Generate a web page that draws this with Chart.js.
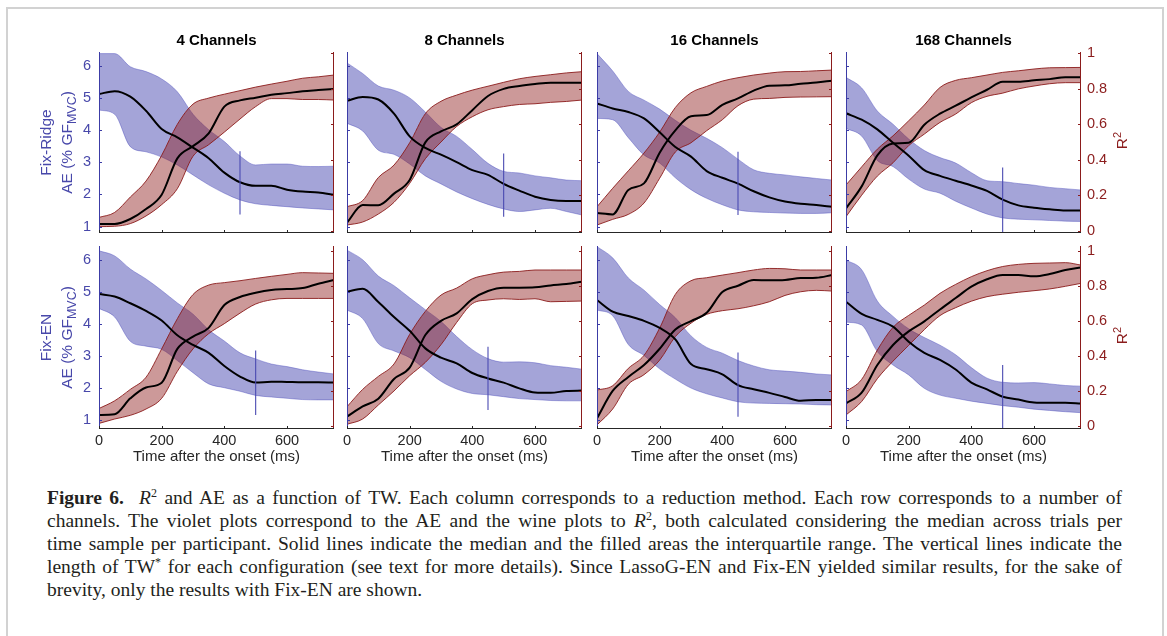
<!DOCTYPE html>
<html>
<head>
<meta charset="utf-8">
<script src="https://cdn.jsdelivr.net/npm/chart.js@4.4.1/dist/chart.umd.min.js"></script>
<style>
    body { margin: 0; background: #fff; width: 1167px; height: 636px; overflow: hidden; position: relative; }
    #frame { position: absolute; left: 6px; top: 7px; width: 1154px; height: 700px; border: 2px solid #d2d2d2; border-bottom: none; }
    canvas { position: absolute; }
    #caption { position: absolute; left: 47px; top: 486px; width: 1075px; font-family: "Liberation Serif", "Times New Roman", serif; font-size: 19.5px; line-height: 23px; color: #231f20; }
    #caption div { text-align: justify; text-align-last: justify; white-space: nowrap; }
    #caption div.last { text-align-last: left; }
    #caption sup { font-size: 12px; line-height: 0; vertical-align: 7px; }
</style>
</head>
<body>
<div id="frame"></div>
<div id="charts"></div>
<div id="caption">
    <div><b>Figure 6.</b>&nbsp; <i>R</i><sup>2</sup> and AE as a function of TW. Each column corresponds to a reduction method. Each row corresponds to a number of</div>
    <div>channels. The violet plots correspond to the AE and the wine plots to <i>R</i><sup>2</sup>, both calculated considering the median across trials per</div>
    <div>time sample per participant. Solid lines indicate the median and the filled areas the interquartile range. The vertical lines indicate the</div>
    <div>length of TW<sup>*</sup> for each configuration (see text for more details). Since LassoG-EN and Fix-EN yielded similar results, for the sake of</div>
    <div class="last">brevity, only the results with Fix-EN are shown.</div>
</div>
<script>
// time after the onset (ms)
const TIME = [0, 50, 100, 150, 200, 250, 300, 350, 400, 450, 500, 550, 600, 650, 700, 750];

const methods = ["Fix-Ridge", "Fix-EN"];
const channels = ["4 Channels", "8 Channels", "16 Channels", "168 Channels"];

// Fix-Ridge, AE (% GF_MVC): median, lower and upper quartile
const ridge4AeMed = [5.13, 5.22, 5.05, 4.61, 4.04, 3.78, 3.46, 3.13, 2.68, 2.38, 2.27, 2.27, 2.15, 2.09, 2.06, 1.99];
const ridge4AeLo = [4.63, 4.50, 3.49, 3.33, 3.17, 2.92, 2.61, 2.30, 2.04, 1.83, 1.71, 1.66, 1.62, 1.58, 1.55, 1.52];
const ridge4AeHi = [6.39, 6.39, 5.98, 5.83, 5.60, 5.20, 4.50, 4.02, 3.65, 3.20, 2.92, 2.95, 2.95, 2.88, 2.87, 2.88];
const ridge8AeMed = [4.92, 5.04, 4.96, 4.52, 3.81, 3.45, 3.24, 3.01, 2.76, 2.61, 2.33, 2.12, 1.93, 1.83, 1.80, 1.80];
const ridge8AeLo = [4.22, 3.98, 3.38, 3.25, 2.95, 2.58, 2.33, 2.08, 1.87, 1.69, 1.55, 1.47, 1.52, 1.57, 1.47, 1.36];
const ridge8AeHi = [6.10, 5.77, 5.38, 5.25, 5.01, 4.57, 4.09, 3.81, 3.40, 2.97, 2.72, 2.67, 2.58, 2.52, 2.45, 2.43];
const ridge16AeMed = [4.84, 4.68, 4.57, 4.37, 3.94, 3.48, 3.18, 2.73, 2.52, 2.34, 2.10, 1.91, 1.78, 1.71, 1.67, 1.62];
const ridge16AeLo = [4.37, 4.33, 3.77, 3.23, 2.98, 2.52, 2.15, 1.88, 1.68, 1.52, 1.46, 1.44, 1.42, 1.41, 1.41, 1.43];
const ridge16AeHi = [6.39, 5.85, 5.21, 4.94, 4.66, 4.31, 4.00, 3.75, 3.46, 3.10, 2.77, 2.66, 2.61, 2.55, 2.50, 2.45];
const ridge168AeMed = [4.53, 4.33, 4.03, 3.61, 3.21, 2.76, 2.58, 2.43, 2.28, 2.11, 1.84, 1.66, 1.59, 1.54, 1.50, 1.50];
const ridge168AeLo = [4.06, 3.82, 3.06, 2.87, 2.48, 2.17, 2.04, 1.79, 1.58, 1.39, 1.27, 1.23, 1.21, 1.19, 1.17, 1.16];
const ridge168AeHi = [5.65, 5.32, 4.60, 4.19, 3.73, 3.37, 3.15, 2.98, 2.68, 2.43, 2.40, 2.34, 2.29, 2.22, 2.18, 2.14];

// Fix-Ridge, R2
const ridge4R2Med = [0.038, 0.038, 0.066, 0.122, 0.203, 0.408, 0.477, 0.549, 0.70, 0.735, 0.75, 0.767, 0.776, 0.786, 0.793, 0.80];
const ridge4R2Lo = [0.023, 0.025, 0.04, 0.083, 0.147, 0.237, 0.42, 0.485, 0.556, 0.63, 0.70, 0.745, 0.745, 0.74, 0.74, 0.737];
const ridge4R2Hi = [0.075, 0.103, 0.19, 0.28, 0.425, 0.60, 0.714, 0.748, 0.77, 0.79, 0.81, 0.827, 0.843, 0.86, 0.868, 0.878];
const ridge8R2Med = [0.045, 0.145, 0.143, 0.209, 0.286, 0.498, 0.56, 0.60, 0.68, 0.76, 0.80, 0.816, 0.827, 0.835, 0.835, 0.835];
const ridge8R2Lo = [0.032, 0.049, 0.094, 0.16, 0.267, 0.406, 0.50, 0.588, 0.643, 0.682, 0.70, 0.712, 0.716, 0.724, 0.729, 0.737];
const ridge8R2Hi = [0.135, 0.17, 0.30, 0.37, 0.496, 0.66, 0.73, 0.765, 0.793, 0.815, 0.837, 0.857, 0.87, 0.88, 0.89, 0.897];
const ridge16R2Med = [0.10, 0.092, 0.23, 0.267, 0.44, 0.566, 0.645, 0.652, 0.71, 0.746, 0.79, 0.818, 0.82, 0.829, 0.836, 0.846];
const ridge16R2Lo = [0.032, 0.064, 0.092, 0.156, 0.296, 0.444, 0.496, 0.564, 0.626, 0.705, 0.742, 0.746, 0.752, 0.754, 0.755, 0.756];
const ridge16R2Hi = [0.135, 0.239, 0.338, 0.438, 0.556, 0.695, 0.778, 0.814, 0.844, 0.863, 0.878, 0.889, 0.897, 0.898, 0.902, 0.906];
const ridge168R2Med = [0.126, 0.25, 0.425, 0.492, 0.496, 0.598, 0.66, 0.705, 0.752, 0.795, 0.84, 0.84, 0.848, 0.855, 0.865, 0.865];
const ridge168R2Lo = [0.079, 0.20, 0.308, 0.383, 0.48, 0.545, 0.611, 0.658, 0.722, 0.758, 0.776, 0.80, 0.816, 0.829, 0.835, 0.835];
const ridge168R2Hi = [0.258, 0.36, 0.46, 0.535, 0.62, 0.709, 0.808, 0.848, 0.863, 0.878, 0.893, 0.902, 0.912, 0.919, 0.92, 0.921];

// Fix-EN, AE (% GF_MVC)
const en4AeMed = [4.94, 4.86, 4.65, 4.41, 4.11, 3.65, 3.35, 3.10, 2.69, 2.36, 2.17, 2.20, 2.19, 2.18, 2.18, 2.17];
const en4AeLo = [4.49, 4.22, 3.46, 3.31, 3.21, 2.86, 2.48, 2.13, 2.01, 1.90, 1.77, 1.72, 1.68, 1.64, 1.63, 1.63];
const en4AeHi = [6.29, 6.13, 5.72, 5.41, 5.05, 4.66, 4.31, 3.82, 3.47, 3.10, 2.91, 2.75, 2.67, 2.57, 2.50, 2.44];
const en8AeMed = [5.01, 5.10, 4.69, 4.22, 3.79, 3.24, 2.95, 2.77, 2.47, 2.30, 2.17, 1.99, 1.86, 1.85, 1.91, 1.92];
const en8AeLo = [4.44, 4.17, 3.39, 3.16, 2.95, 2.58, 2.21, 1.97, 1.83, 1.79, 1.73, 1.67, 1.64, 1.61, 1.60, 1.60];
const en8AeHi = [6.31, 6.01, 5.50, 5.20, 4.82, 4.45, 4.08, 3.61, 3.20, 2.92, 2.81, 2.82, 2.79, 2.70, 2.65, 2.59];
const en16AeMed = [4.75, 4.39, 4.25, 4.10, 3.88, 3.52, 2.75, 2.59, 2.43, 2.09, 1.96, 1.85, 1.72, 1.60, 1.63, 1.63];
const en16AeLo = [4.44, 4.26, 3.36, 3.02, 2.60, 2.28, 2.00, 1.82, 1.69, 1.57, 1.53, 1.52, 1.51, 1.50, 1.48, 1.47];
const en16AeHi = [6.42, 6.07, 5.44, 5.06, 4.61, 4.20, 3.63, 3.27, 3.09, 2.86, 2.69, 2.57, 2.53, 2.49, 2.44, 2.41];
const en168AeMed = [4.70, 4.32, 4.13, 3.92, 3.45, 3.10, 2.88, 2.58, 2.17, 1.96, 1.73, 1.64, 1.55, 1.54, 1.54, 1.52];
const en168AeLo = [4.06, 3.97, 3.14, 2.72, 2.41, 1.99, 1.78, 1.68, 1.59, 1.52, 1.45, 1.40, 1.34, 1.30, 1.26, 1.23];
const en168AeHi = [6.00, 5.70, 4.72, 4.24, 3.85, 3.58, 3.34, 3.04, 2.64, 2.31, 2.18, 2.16, 2.17, 2.13, 2.08, 2.06];

// Fix-EN, R2
const en4R2Med = [0.063, 0.067, 0.158, 0.22, 0.247, 0.44, 0.51, 0.56, 0.69, 0.736, 0.76, 0.776, 0.781, 0.787, 0.812, 0.833];
const en4R2Lo = [0.015, 0.04, 0.061, 0.097, 0.158, 0.312, 0.44, 0.527, 0.584, 0.644, 0.696, 0.72, 0.728, 0.728, 0.728, 0.728];
const en4R2Hi = [0.10, 0.144, 0.209, 0.278, 0.44, 0.612, 0.75, 0.804, 0.818, 0.829, 0.842, 0.854, 0.865, 0.875, 0.873, 0.871];
const en8R2Med = [0.053, 0.112, 0.156, 0.268, 0.333, 0.519, 0.60, 0.643, 0.724, 0.77, 0.789, 0.789, 0.791, 0.802, 0.81, 0.823];
const en8R2Lo = [0.01, 0.04, 0.12, 0.20, 0.287, 0.363, 0.464, 0.591, 0.698, 0.719, 0.726, 0.722, 0.726, 0.709, 0.711, 0.713];
const en8R2Hi = [0.11, 0.209, 0.283, 0.354, 0.523, 0.654, 0.747, 0.787, 0.84, 0.863, 0.878, 0.882, 0.89, 0.89, 0.89, 0.89];
const en16R2Med = [0.044, 0.20, 0.28, 0.348, 0.441, 0.551, 0.599, 0.646, 0.764, 0.80, 0.833, 0.831, 0.833, 0.844, 0.846, 0.861];
const en16R2Lo = [0.006, 0.097, 0.238, 0.293, 0.376, 0.51, 0.587, 0.637, 0.658, 0.669, 0.686, 0.709, 0.745, 0.766, 0.774, 0.77];
const en16R2Hi = [0.205, 0.23, 0.329, 0.403, 0.559, 0.751, 0.829, 0.846, 0.861, 0.875, 0.89, 0.899, 0.897, 0.89, 0.89, 0.89];
const en168R2Med = [0.129, 0.19, 0.348, 0.462, 0.54, 0.597, 0.665, 0.73, 0.795, 0.837, 0.861, 0.861, 0.854, 0.867, 0.89, 0.905];
const en168R2Lo = [0.063, 0.14, 0.27, 0.37, 0.46, 0.55, 0.63, 0.675, 0.712, 0.738, 0.752, 0.763, 0.772, 0.782, 0.797, 0.814];
const en168R2Hi = [0.196, 0.266, 0.433, 0.563, 0.631, 0.69, 0.757, 0.808, 0.852, 0.886, 0.91, 0.922, 0.928, 0.93, 0.932, 0.918];

// TW* vertical lines (ms) and their AE extent, panel order: ridge 4..168, EN 4..168
const twStar = [450, 500, 450, 500, 500, 450, 450, 500];
const twAeLo = [1.38, 1.31, 1.36, 0.80, 1.16, 1.31, 1.10, 0.72];
const twAeHi = [3.35, 3.28, 3.33, 2.84, 3.17, 3.29, 3.11, 2.72];

// tick labels
const xTicks = [0, 200, 400, 600];
const aeTicks = [1, 2, 3, 4, 5, 6];
const r2Ticks = [0, 0.2, 0.4, 0.6, 0.8, 1];

// layout
const COL_LEFT = [99, 347, 597, 846];
const PANEL_W = 235;
const ROW_TOP = [52, 246];
const ROW_H = [181, 183];
const AE_RANGE = [[0.80, 6.44], [0.72, 6.44]];
const R2_RANGE = [[-0.013, 1.008], [-0.017, 1.027]];
const M = 75, MT = 45, MB = 45;

const FONT = '"Liberation Sans", Arial, Helvetica, sans-serif';
const AE_COLOR = "#3c3ca6";
const R2_COLOR = "#8b1c1c";
const X_COLOR = "#262626";

const panelData = [
    [ridge4AeMed, ridge4AeLo, ridge4AeHi, ridge4R2Med, ridge4R2Lo, ridge4R2Hi],
    [ridge8AeMed, ridge8AeLo, ridge8AeHi, ridge8R2Med, ridge8R2Lo, ridge8R2Hi],
    [ridge16AeMed, ridge16AeLo, ridge16AeHi, ridge16R2Med, ridge16R2Lo, ridge16R2Hi],
    [ridge168AeMed, ridge168AeLo, ridge168AeHi, ridge168R2Med, ridge168R2Lo, ridge168R2Hi],
    [en4AeMed, en4AeLo, en4AeHi, en4R2Med, en4R2Lo, en4R2Hi],
    [en8AeMed, en8AeLo, en8AeHi, en8R2Med, en8R2Lo, en8R2Hi],
    [en16AeMed, en16AeLo, en16AeHi, en16R2Med, en16R2Lo, en16R2Hi],
    [en168AeMed, en168AeLo, en168AeHi, en168R2Med, en168R2Lo, en168R2Hi]
];

function pts(vals) {
    return TIME.map(function (t, i) { return { x: t, y: vals[i] }; });
}

function drawParts(ctx, parts, cx, cy) {
    // parts drawn along a rotated baseline, centred on (cx, cy)
    let total = 0;
    parts.forEach(function (p) { ctx.font = p.font; p.w = ctx.measureText(p.text).width; total += p.w; });
    ctx.save();
    ctx.translate(cx, cy);
    ctx.rotate(-Math.PI / 2);
    ctx.textBaseline = "middle";
    ctx.textAlign = "left";
    let x = -total / 2;
    parts.forEach(function (p) {
        ctx.font = p.font;
        ctx.fillText(p.text, x, p.dy);
        x += p.w;
    });
    ctx.restore();
}

const decor = {
    id: "decor",
    afterDraw(chart, args, o) {
        const ctx = chart.ctx;
        const a = chart.chartArea;
        const sx = chart.scales.x, sae = chart.scales.ae, sr2 = chart.scales.r2;
        const TL = 3;
        ctx.save();
        ctx.lineWidth = 1;

        ctx.strokeStyle = AE_COLOR;
        ctx.beginPath();
        ctx.moveTo(a.left + 0.5, a.top);
        ctx.lineTo(a.left + 0.5, a.bottom);
        aeTicks.forEach(function (v) {
            const y = Math.round(sae.getPixelForValue(v)) + 0.5;
            ctx.moveTo(a.left, y);
            ctx.lineTo(a.left + TL, y);
        });
        ctx.stroke();

        ctx.strokeStyle = R2_COLOR;
        ctx.beginPath();
        ctx.moveTo(a.right - 0.5, a.top);
        ctx.lineTo(a.right - 0.5, a.bottom);
        r2Ticks.forEach(function (v) {
            const y = Math.round(sr2.getPixelForValue(v)) + 0.5;
            ctx.moveTo(a.right, y);
            ctx.lineTo(a.right - TL, y);
        });
        ctx.stroke();

        ctx.strokeStyle = X_COLOR;
        ctx.beginPath();
        ctx.moveTo(a.left, a.bottom - 0.5);
        ctx.lineTo(a.right, a.bottom - 0.5);
        xTicks.forEach(function (v) {
            const x = Math.round(sx.getPixelForValue(v)) + 0.5;
            ctx.moveTo(x, a.bottom);
            ctx.lineTo(x, a.bottom - TL);
        });
        ctx.stroke();

        const midY = (a.top + a.bottom) / 2;
        if (o.title) {
            ctx.fillStyle = "#000";
            ctx.font = "bold 15px " + FONT;
            ctx.textAlign = "center";
            ctx.textBaseline = "middle";
            ctx.fillText(o.title, (a.left + a.right) / 2, a.top - 11.5);
        }
        if (o.method) {
            ctx.fillStyle = "#4848aa";
            drawParts(ctx, [{ text: o.method, font: "15.5px " + FONT, dy: 0 }], a.left - 52, midY);
            drawParts(ctx, [
                { text: "AE (% GF", font: "15.5px " + FONT, dy: 0 },
                { text: "MVC", font: "12.5px " + FONT, dy: 4.5 },
                { text: ")", font: "15.5px " + FONT, dy: 0 }
            ], a.left - 31, midY);
        }
        if (o.r2Title) {
            ctx.fillStyle = R2_COLOR;
            drawParts(ctx, [
                { text: "R", font: "15.5px " + FONT, dy: 0 },
                { text: "2", font: "11px " + FONT, dy: -5 }
            ], a.right + 42, midY - 2);
        }
        ctx.restore();
    }
};

function r2Label(v) {
    return String(Math.round(v * 10) / 10);
}

const holder = document.getElementById("charts");

for (let p = 0; p < 8; p++) {
    const row = Math.floor(p / 4), col = p % 4;
    const d = panelData[p];
    const canvas = document.createElement("canvas");
    canvas.width = PANEL_W + 2 * M;
    canvas.height = ROW_H[row] + MT + MB;
    canvas.style.left = (COL_LEFT[col] - M) + "px";
    canvas.style.top = (ROW_TOP[row] - MT) + "px";
    holder.appendChild(canvas);

    const datasets = [
        { data: pts(d[1]), yAxisID: "ae", borderColor: "rgba(80,80,190,0.55)", borderWidth: 0.8, fill: false, order: 9 },
        { data: pts(d[2]), yAxisID: "ae", borderColor: "rgba(80,80,190,0.55)", borderWidth: 0.8, fill: "-1", backgroundColor: "rgba(62,62,172,0.47)", order: 8 },
        { data: pts(d[4]), yAxisID: "r2", borderColor: R2_COLOR, borderWidth: 0.9, fill: false, order: 7 },
        { data: pts(d[5]), yAxisID: "r2", borderColor: R2_COLOR, borderWidth: 0.9, fill: "-1", backgroundColor: "rgba(140,22,22,0.44)", order: 6 },
        { data: pts(d[0]), yAxisID: "ae", borderColor: "#000", borderWidth: 2, fill: false, order: 2 },
        { data: pts(d[3]), yAxisID: "r2", borderColor: "#000", borderWidth: 2, fill: false, order: 2 },
        { data: [{ x: twStar[p], y: twAeLo[p] }, { x: twStar[p], y: twAeHi[p] }], yAxisID: "ae", borderColor: "#4a4ab2", borderWidth: 1.1, fill: false, cubicInterpolationMode: "default", tension: 0, order: 1 }
    ];

    new Chart(canvas.getContext("2d"), {
        type: "line",
        data: { datasets: datasets },
        options: {
            responsive: false,
            animation: false,
            devicePixelRatio: 1,
            layout: { padding: { top: MT, left: 0, right: 0, bottom: 0 } },
            elements: { point: { radius: 0 }, line: { cubicInterpolationMode: "monotone" } },
            plugins: {
                legend: { display: false },
                tooltip: { enabled: false },
                decor: {
                    title: row === 0 ? channels[col] : "",
                    method: col === 0 ? methods[row] : "",
                    r2Title: col === 3
                }
            },
            scales: {
                x: {
                    type: "linear", min: 0, max: 750,
                    grid: { display: false, drawTicks: false }, border: { display: false },
                    ticks: { display: row === 1, stepSize: 200, includeBounds: false, padding: 3, color: X_COLOR, font: { family: FONT, size: 14.5 } },
                    title: { display: row === 1, text: "Time after the onset (ms)", color: X_COLOR, font: { family: FONT, size: 15 }, padding: { top: 0, bottom: 8 } },
                    afterFit: function (s) { s.height = MB; }
                },
                ae: {
                    type: "linear", position: "left", min: AE_RANGE[row][0], max: AE_RANGE[row][1],
                    grid: { display: false, drawTicks: false }, border: { display: false },
                    ticks: { display: col === 0, stepSize: 1, includeBounds: false, padding: 8, color: "#4848aa", font: { family: FONT, size: 14.5 } },
                    afterFit: function (s) { s.width = M; }
                },
                r2: {
                    type: "linear", position: "right", min: R2_RANGE[row][0], max: R2_RANGE[row][1],
                    grid: { display: false, drawTicks: false }, border: { display: false },
                    ticks: { display: col === 3, stepSize: 0.2, includeBounds: false, padding: 6, color: R2_COLOR, font: { family: FONT, size: 14.5 }, callback: r2Label },
                    afterFit: function (s) { s.width = M; }
                }
            }
        },
        plugins: [decor]
    });
}
</script>
</body>
</html>
